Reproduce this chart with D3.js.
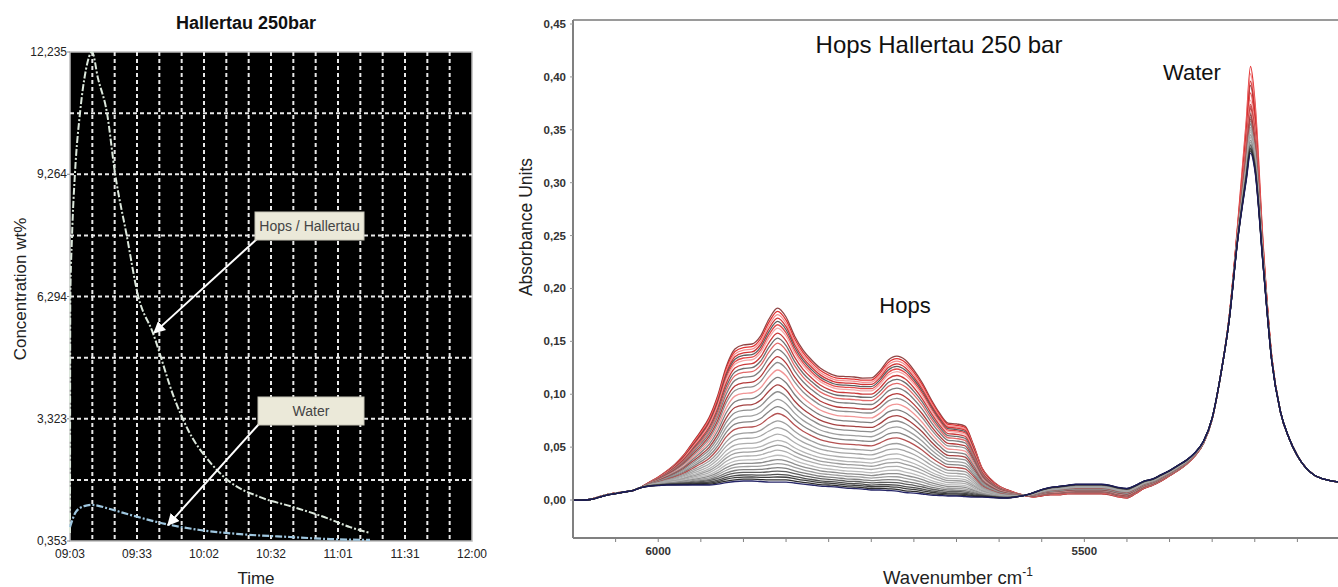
<!DOCTYPE html>
<html><head><meta charset="utf-8">
<script src="https://cdn.jsdelivr.net/npm/d3@7/dist/d3.min.js"></script>
<style>
body{margin:0;background:#fff;}
svg{display:block;font-family:"Liberation Sans",Arial,sans-serif;}
</style>
</head><body>
<svg id="c" width="1338" height="587"></svg>
<script>
// ---------- LEFT CHART DATA ----------
const timeTickMinutes = [0, 29.5, 59, 88.5, 118, 147.5, 177];
const timeTickLabels = ["09:03","09:33","10:02","10:32","11:01","11:31","12:00"];
const concTicks = [0.353, 3.323, 6.294, 9.264, 12.235];
const concTickLabels = ["0,353","3,323","6,294","9,264","12,235"];
const hopsTime = [0, 0.13, 0.88, 2.2, 4.4, 7.0, 9.7, 12.3, 16.3, 19.8, 25.1, 29.9, 36.5, 46.2, 52.0, 61.6, 70.4, 83.7, 98.2, 113.2, 123.3, 132.1];
const hopsConc = [0.55, 6.21, 7.74, 9.30, 10.75, 11.8, 12.235, 11.6, 10.75, 9.30, 7.74, 6.33, 5.41, 3.78, 3.05, 2.27, 1.79, 1.42, 1.18, 0.91, 0.69, 0.55];
const waterTime = [0, 2.6, 6.2, 9.7, 17.6, 26.4, 41.8, 57.2, 74.9, 96.9, 114.5, 132.1];
const waterConc = [0.69, 1.06, 1.20, 1.23, 1.13, 0.99, 0.77, 0.62, 0.52, 0.45, 0.40, 0.38];

// ---------- RIGHT CHART DATA ----------
const wavenumbers = [6100,6090,6080,6070,6060,6050,6040,6030,6020,6010,
 6000,5990,5980,5970,5960,5950,5940,5930,5920,5910,
 5900,5890,5880,5870,5860,5850,5840,5830,5820,5810,
 5800,5790,5780,5770,5760,5750,5740,5730,5720,5710,
 5700,5690,5680,5670,5660,5650,5640,5630,5620,5610,
 5600,5590,5580,5570,5560,5550,5540,5530,5520,5510,
 5500,5490,5480,5470,5460,5450,5440,5430,5420,5410,
 5400,5390,5380,5370,5360,5350,5340,5330,5320,5310,
 5305,5300,5290,5280,5270,5260,5250,5240,5230,5220,5210,5200];
const baseline = [0,0,0.0005,0.0024,0.0047,0.0061,0.0076,0.0090,0.0118,0.0132,
 0.0137,0.0142,0.0142,0.0142,0.0142,0.0142,0.0142,0.0151,0.0165,0.0175,
 0.0180,0.0180,0.0175,0.0170,0.0170,0.0170,0.0161,0.0151,0.0142,0.0132,
 0.0128,0.0123,0.0113,0.0109,0.0104,0.0095,0.0095,0.0090,0.0085,0.0071,
 0.0066,0.0057,0.0047,0.0043,0.0038,0.0038,0.0033,0.0028,0.0028,0.0024,
 0.0019,0.0019,0.0019,0.0019,0.0019,0.0019,0.0019,0.0019,0.0019,0.0019,
 0.0019,0.0019,0.0019,0.0019,0.0019,0.0019,0.0019,0.0019,0.0019,0.0019,
 0.0019,0.0019,0.0019,0.0019,0.0019,0.0019,0.0019,0.0019,0.0019,0.0019,
 0.0019,0.0019,0.0019,0.0019,0.0019,0.0019,0.0019,0.0019,0.0019,0.0019,0.0019,0.0019];
// hops band of the richest spectrum (above baseline)
const hopsBand = [0,0,0,0.0005,0.0005,0.0005,0,0,0.0005,0.0038,
 0.0080,0.0132,0.0199,0.0284,0.0397,0.0510,0.0643,0.0841,0.1101,0.1253,
 0.1286,0.1295,0.1375,0.1541,0.1645,0.1560,0.1390,0.1267,0.1182,0.1116,
 0.1073,0.1049,0.1054,0.1054,0.1049,0.1059,0.1125,0.1234,0.1276,0.1253,
 0.1163,0.1049,0.0908,0.0780,0.0690,0.0681,0.0666,0.0492,0.0274,0.0175,
 0.0113,0.0076,0.0047,0.0020,0,0,0,0,0,0,
 0,0,0,0,0,0,0,0,0,0,
 0,0,0,0,0,0,0,0,0,0,
 0,0,0,0,0,0,0,0,0,0,0,0];
// water band common to all spectra (lowest peak)
const waterBand = [0,0,0,0,0,0,0,0,0,0,
 0,0,0,0,0,0,0,0,0,0,
 0,0,0,0,0,0,0,0,0,0,
 0,0,0,0,0,0,0,0,0,0,
 0,0,0,0,0,0,0,0,0,0,
 0,0,0,0.0005,0.001,0.002,0.003,0.003,0.004,0.004,
 0.004,0.004,0.004,0.003,0.001,0.000,0.004,0.009,0.012,0.016,
 0.021,0.026,0.032,0.040,0.052,0.0746,0.1163,0.1683,0.2439,0.300,
 0.326,0.310,0.2174,0.1290,0.0820,0.0570,0.0400,0.0285,0.0215,0.0180,0.0162,0.0150];
// extra water-peak tip (scaled per spectrum)
const waterTip = [0,0,0,0,0,0,0,0,0,0,
 0,0,0,0,0,0,0,0,0,0,
 0,0,0,0,0,0,0,0,0,0,
 0,0,0,0,0,0,0,0,0,0,
 0,0,0,0,0,0,0,0,0,0,
 0,0,0,0,0,0,0,0,0,0,
 0,0,0,0,0,0,0,0,0,0,
 0,0,0,0,0,0,0,0.003,0.015,0.055,
 0.08,0.065,0.02,0.004,0,0,0,0,0,0,0,0];
// low-hops spectra sit higher between the bands
const interBand = [0,0,0,0,0,0,0,0,0,0,
 0,0,0,0,0,0,0,0,0,0,
 0,0,0,0,0,0,0,0,0,0,
 0,0,0,0,0,0,0,0,0,0,
 0,0,0,0,0,0,0,0,0,0,
 0,0,0.001,0.002,0.004,0.006,0.007,0.008,0.008,0.009,
 0.009,0.009,0.009,0.009,0.009,0.009,0.008,0.007,0.006,0.006,
 0.005,0.005,0.004,0.003,0.002,0.001,0,0,0,0,
 0,0,0,0,0,0,0,0,0,0,0,0];
// per spectrum: hops level (fraction of top band), water peak height, colour
const hopsLevels = [1.0,0.981,0.962,0.942,0.923,0.904,0.885,0.856,0.827,0.798,
 0.763,0.721,0.687,0.644,0.602,0.558,0.519,0.475,0.433,0.394,
 0.352,0.313,0.275,0.240,0.212,0.183,0.154,0.129,0.106,0.083,
 0.063,0.044,0.029,0.013,0];
const waterPeaks = [0.392,0.41,0.403,0.396,0.372,0.385,0.378,0.374,0.366,0.372,
 0.365,0.37,0.362,0.368,0.36,0.364,0.358,0.356,0.355,0.36,
 0.352,0.35,0.348,0.346,0.345,0.343,0.342,0.34,0.338,0.336,
 0.335,0.333,0.332,0.33,0.328];
const lineColors = ["#8a3a3a","#e02828","#f28a8a","#d02a2a","#555555","#e04040","#f4a4a4","#c83030","#666666","#e06262",
 "#777777","#b03030","#888888","#f09090","#777777","#a03838","#888888","#999999","#808080","#b04848",
 "#999999","#a0a0a0","#aaaaaa","#b0b0b0","#999999","#aaaaaa","#b8b8b8","#888888","#999999","#777777",
 "#555555","#444444","#333333","#222222","#1a1a60"];
const yTicksRight = [0,0.05,0.10,0.15,0.20,0.25,0.30,0.35,0.40,0.45];
const yTickLabelsRight = ["0,00","0,05","0,10","0,15","0,20","0,25","0,30","0,35","0,40","0,45"];
const xMinorTicksRight = [6050,6000,5950,5900,5850,5800,5750,5700,5650,5600,5550,5500,5450,5400,5350,5300,5250];
const xLabelTicksRight = [6000,5500];

const svg = d3.select("#c");
const defs = svg.append("defs");
defs.append("marker").attr("id","arr").attr("viewBox","0 0 10 10").attr("refX",9).attr("refY",5)
  .attr("markerWidth",6).attr("markerHeight",6).attr("orient","auto")
  .append("path").attr("d","M0,0 L10,5 L0,10 z").attr("fill","#fff");

// ================= LEFT CHART =================
const L = {x0:70, x1:472, y0:52, y1:541};
const xT = d3.scaleLinear().domain([0,177]).range([L.x0,L.x1]);
const yC = d3.scaleLinear().domain([0.353,12.235]).range([L.y1,L.y0]);
const gL = svg.append("g");
gL.append("rect").attr("x",L.x0).attr("y",L.y0).attr("width",L.x1-L.x0).attr("height",L.y1-L.y0)
  .attr("fill","#000").attr("stroke","#bbb").attr("stroke-width",1.5);

const hGrid = d3.range(1,8).map(i => 0.353 + i*(12.235-0.353)/8);
const vGrid = d3.range(1,18).map(i => i*177/18);
gL.selectAll(".hg").data(hGrid).join("line")
  .attr("x1",L.x0).attr("x2",L.x1).attr("y1",d=>yC(d)).attr("y2",d=>yC(d))
  .attr("stroke","#e8e8e8").attr("stroke-width",2).attr("stroke-dasharray","4,3");
gL.selectAll(".vg").data(vGrid).join("line")
  .attr("y1",L.y0).attr("y2",L.y1).attr("x1",d=>xT(d)).attr("x2",d=>xT(d))
  .attr("stroke","#e8e8e8").attr("stroke-width",2).attr("stroke-dasharray","4,3");

gL.selectAll(".yt").data(concTicks).join("text")
  .attr("x",L.x0-3).attr("y",d=>yC(d)+4).attr("text-anchor","end")
  .attr("font-size",12).attr("fill","#222").text((d,i)=>concTickLabels[i]);
gL.selectAll(".ytk").data(concTicks).join("line")
  .attr("x1",L.x0-3).attr("x2",L.x0).attr("y1",d=>yC(d)).attr("y2",d=>yC(d)).attr("stroke","#888");
gL.selectAll(".xt").data(timeTickMinutes).join("text")
  .attr("x",d=>xT(d)).attr("y",L.y1+17).attr("text-anchor","middle")
  .attr("font-size",12).attr("fill","#222").text((d,i)=>timeTickLabels[i]);

gL.append("text").attr("x",246).attr("y",29).attr("text-anchor","middle")
  .attr("font-size",18).attr("font-weight","bold").attr("fill","#111").text("Hallertau 250bar");
gL.append("text").attr("transform","translate(26,289) rotate(-90)").attr("text-anchor","middle")
  .attr("font-size",17).attr("fill","#222").text("Concentration wt%");
gL.append("text").attr("x",256).attr("y",584).attr("text-anchor","middle")
  .attr("font-size",17).attr("fill","#222").text("Time");

const lineL = d3.line().x(d=>xT(d[0])).y(d=>yC(d[1])).curve(d3.curveMonotoneX);
gL.append("path").datum(hopsTime.map((t,i)=>[t,hopsConc[i]])).attr("d",lineL)
  .attr("fill","none").attr("stroke","#dce8dc").attr("stroke-width",2).attr("stroke-dasharray","7,2,2,2");
gL.append("path").datum(waterTime.map((t,i)=>[t,waterConc[i]])).attr("d",lineL)
  .attr("fill","none").attr("stroke","#9ec6df").attr("stroke-width",2.2).attr("stroke-dasharray","7,2,2,2");

function box(x,y,w,h,label){
  gL.append("rect").attr("x",x).attr("y",y).attr("width",w).attr("height",h)
    .attr("fill","#ebe9d9").attr("stroke","#c8c6b8");
  gL.append("text").attr("x",x+w/2).attr("y",y+h/2+5).attr("text-anchor","middle")
    .attr("font-size",14).attr("fill","#444").text(label);
}
gL.append("line").attr("x1",257).attr("y1",239).attr("x2",xT(37.0)).attr("y2",yC(5.41))
  .attr("stroke","#fff").attr("stroke-width",2).attr("marker-end","url(#arr)");
gL.append("line").attr("x1",259).attr("y1",424).attr("x2",xT(43.1)).attr("y2",yC(0.74))
  .attr("stroke","#fff").attr("stroke-width",2).attr("marker-end","url(#arr)");
box(255,212,109,28,"Hops / Hallertau");
box(258,397,106,28,"Water");

// ================= RIGHT CHART =================
const R = {x0:573, x1:1340, y0:20, y1:538};
const xW = d3.scaleLinear().domain([6100,5200]).range([R.x0,R.x1]);
const yA = d3.scaleLinear().domain([-0.0359,0.4538]).range([R.y1,R.y0]);
const gR = svg.append("g");
defs.append("clipPath").attr("id","clipR").append("rect")
  .attr("x",R.x0+1).attr("y",R.y0).attr("width",R.x1-R.x0).attr("height",R.y1-R.y0);

const baseWaterPeak = d3.max(waterBand) + 0.0019;
const tipMax = d3.max(waterTip);
const spectra = hopsLevels.map((h,i)=>{
  const ts = (waterPeaks[i]-baseWaterPeak)/tipMax;
  return wavenumbers.map((w,j)=>[w, baseline[j] + h*hopsBand[j] + waterBand[j] + ts*waterTip[j] + (1-h)*interBand[j]]);
});
const lineR = d3.line().x(d=>xW(d[0])).y(d=>yA(d[1])).curve(d3.curveMonotoneX);
gR.append("g").attr("clip-path","url(#clipR)").selectAll("path").data(spectra).join("path")
  .attr("d",lineR).attr("fill","none").attr("stroke",(d,i)=>lineColors[i])
  .attr("stroke-width",1.3).attr("stroke-opacity",0.95);

gR.append("line").attr("x1",R.x0).attr("x2",R.x1).attr("y1",R.y0).attr("y2",R.y0).attr("stroke","#9a9a9a").attr("stroke-width",2);
gR.append("line").attr("x1",R.x0).attr("x2",R.x0).attr("y1",R.y0).attr("y2",R.y1).attr("stroke","#808080").attr("stroke-width",2);
gR.append("line").attr("x1",R.x0).attr("x2",R.x1).attr("y1",R.y1).attr("y2",R.y1).attr("stroke","#808080").attr("stroke-width",2);
gR.selectAll(".ryt").data(yTicksRight).join("line")
  .attr("x1",R.x0-3).attr("x2",R.x0).attr("y1",d=>yA(d)).attr("y2",d=>yA(d)).attr("stroke","#999");
gR.selectAll(".ryl").data(yTicksRight).join("text")
  .attr("x",R.x0-7).attr("y",d=>yA(d)+4).attr("text-anchor","end")
  .attr("font-size",11.5).attr("font-weight","bold").attr("fill","#333").text((d,i)=>yTickLabelsRight[i]);
gR.selectAll(".rxt").data(xMinorTicksRight).join("line")
  .attr("x1",d=>xW(d)).attr("x2",d=>xW(d)).attr("y1",R.y1).attr("y2",R.y1+4).attr("stroke","#808080");
gR.selectAll(".rxl").data(xLabelTicksRight).join("text")
  .attr("x",d=>xW(d)).attr("y",R.y1+17).attr("text-anchor","middle")
  .attr("font-size",11.5).attr("font-weight","bold").attr("fill","#333").text(d=>d);

gR.append("text").attr("x",939).attr("y",53).attr("text-anchor","middle")
  .attr("font-size",24).attr("fill","#111").text("Hops Hallertau 250 bar");
gR.append("text").attr("x",1192).attr("y",80).attr("text-anchor","middle")
  .attr("font-size",22).attr("fill","#111").text("Water");
gR.append("text").attr("x",905).attr("y",313).attr("text-anchor","middle")
  .attr("font-size",22).attr("fill","#111").text("Hops");
gR.append("text").attr("transform","translate(532,227) rotate(-90)").attr("text-anchor","middle")
  .attr("font-size",17.5).attr("fill","#222").text("Absorbance Units");
const xl = gR.append("text").attr("x",958).attr("y",584).attr("text-anchor","middle")
  .attr("font-size",18.5).attr("fill","#222");
xl.append("tspan").text("Wavenumber cm");
xl.append("tspan").attr("dy",-8).attr("font-size",12).text("-1");
</script>
</body></html>
